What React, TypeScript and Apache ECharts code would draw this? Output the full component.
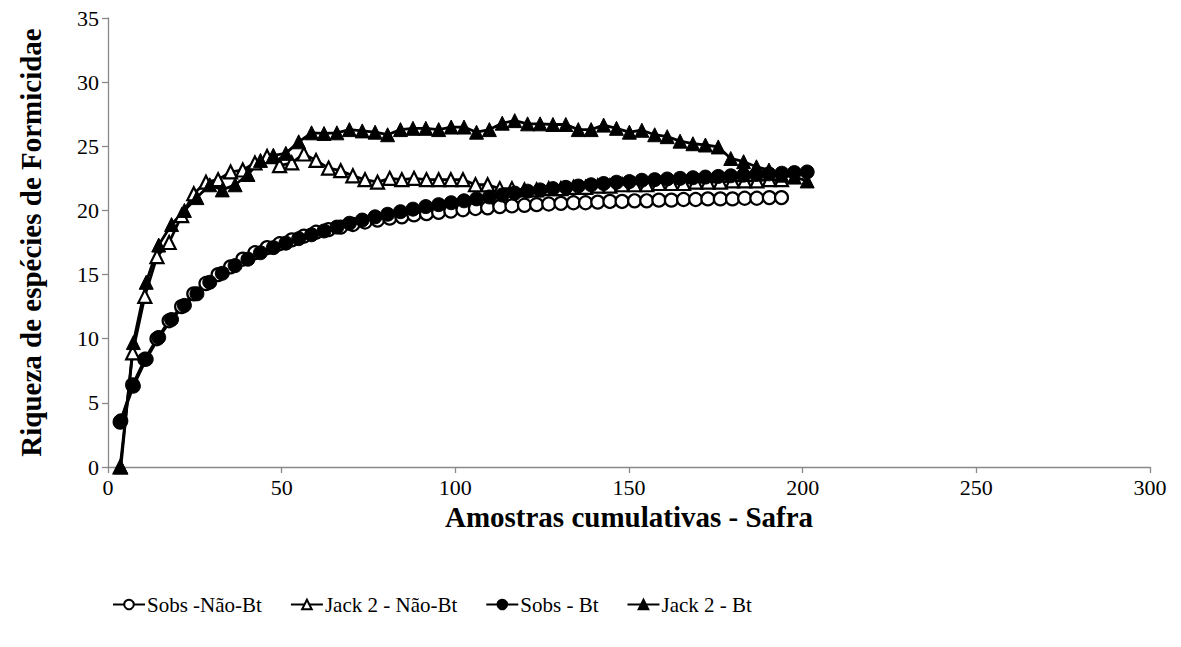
import React, { useEffect, useRef } from "react";
import * as echarts from "echarts";

const xNaoBt = [3.5, 7.1, 10.6, 14.1, 17.6, 21.2, 24.7, 28.2, 31.7, 35.3, 38.8, 42.3, 45.8, 49.4, 52.9, 56.4, 59.9, 63.5, 67.0, 70.5, 74.0, 77.6, 81.1, 84.6, 88.1, 91.7, 95.2, 98.7, 102.2, 105.8, 109.3, 112.8, 116.3, 119.9, 123.4, 126.9, 130.4, 134.0, 137.5, 141.0, 144.5, 148.0, 151.6, 155.1, 158.6, 162.2, 165.7, 169.2, 172.7, 176.3, 179.8, 183.3, 186.8, 190.4, 193.9];
const xBt = [3.7, 7.3, 11.0, 14.6, 18.3, 22.0, 25.6, 29.3, 32.9, 36.6, 40.3, 43.9, 47.6, 51.2, 54.9, 58.6, 62.2, 65.9, 69.5, 73.2, 76.9, 80.5, 84.2, 87.8, 91.5, 95.2, 98.8, 102.5, 106.1, 109.8, 113.5, 117.1, 120.8, 124.4, 128.1, 131.8, 135.4, 139.1, 142.7, 146.4, 150.1, 153.7, 157.4, 161.0, 164.7, 168.4, 172.0, 175.7, 179.3, 183.0, 186.7, 190.3, 194.0, 197.6, 201.3];

const sobsNaoBt = [3.5, 6.4, 8.4, 10.0, 11.4, 12.5, 13.5, 14.3, 15.0, 15.6, 16.2, 16.7, 17.1, 17.4, 17.7, 18.0, 18.3, 18.5, 18.7, 18.9, 19.1, 19.25, 19.4, 19.5, 19.65, 19.75, 19.85, 19.95, 20.05, 20.15, 20.2, 20.3, 20.35, 20.4, 20.45, 20.5, 20.55, 20.6, 20.6, 20.65, 20.7, 20.7, 20.75, 20.75, 20.8, 20.8, 20.85, 20.85, 20.9, 20.9, 20.9, 20.95, 20.95, 21.0, 21.0];
const jack2NaoBt = [0, 8.9, 13.3, 16.4, 17.5, 19.6, 21.3, 22.2, 22.4, 23.0, 23.15, 23.7, 24.2, 23.5, 23.7, 24.4, 23.9, 23.3, 23.1, 22.7, 22.4, 22.2, 22.5, 22.4, 22.5, 22.4, 22.4, 22.4, 22.4, 22.0, 22.0, 21.7, 21.7, 21.6, 21.6, 21.7, 21.7, 21.8, 21.8, 21.9, 21.9, 22.0, 22.0, 22.0, 22.1, 22.1, 22.1, 22.2, 22.2, 22.2, 22.3, 22.3, 22.3, 22.4, 22.4];
const sobsBt = [3.6, 6.3, 8.4, 10.1, 11.5, 12.6, 13.5, 14.4, 15.1, 15.7, 16.2, 16.7, 17.1, 17.45, 17.8, 18.1, 18.4, 18.7, 19.0, 19.25, 19.5, 19.7, 19.9, 20.1, 20.3, 20.45, 20.6, 20.75, 20.9, 21.05, 21.2, 21.35, 21.5, 21.6, 21.7, 21.8, 21.9, 22.0, 22.1, 22.2, 22.25, 22.35, 22.4, 22.45, 22.5, 22.55, 22.6, 22.65, 22.7, 22.75, 22.8, 22.85, 22.9, 22.95, 23.0];
const jack2Bt = [0, 9.7, 14.4, 17.3, 18.9, 20.0, 21.0, 22.0, 21.6, 22.0, 22.8, 23.9, 24.3, 24.45, 25.35, 26.05, 26.0, 26.05, 26.3, 26.2, 26.1, 25.9, 26.3, 26.4, 26.4, 26.3, 26.5, 26.5, 26.1, 26.3, 26.8, 27.0, 26.75, 26.75, 26.7, 26.7, 26.3, 26.3, 26.65, 26.4, 26.1, 26.25, 25.9, 25.75, 25.4, 25.2, 25.1, 24.95, 24.05, 23.8, 23.4, 23.15, 22.75, 22.6, 22.3];

const seriesNames = ["Sobs -Não-Bt", "Jack 2 - Não-Bt", "Sobs - Bt", "Jack 2 - Bt"];
const xTitle = "Amostras cumulativas - Safra";
const yTitle = "Riqueza de espécies de Formicidae";

const FONT = "Liberation Serif";

function pairs(xs: number[], ys: number[]) {
  return ys.map((y, i) => [xs[i], y]);
}

export default function App() {
  const ref = useRef<HTMLDivElement>(null);
  useEffect(() => {
    if (!ref.current) return;
    const chart = echarts.init(ref.current, undefined, { renderer: "svg" });
    const mk = (name: string, data: number[][], symbol: string, filled: boolean, size: number) => ({
      name,
      type: "line",
      data,
      symbol,
      symbolSize: size,
      showSymbol: true,
      lineStyle: { color: "#000", width: 2.8 },
      itemStyle: { color: filled ? "#000" : "#fff", borderColor: "#000", borderWidth: filled ? 1 : 2.2 },
      emphasis: { disabled: true },
    });
    chart.setOption({
      animation: false,
      backgroundColor: "#fff",
      textStyle: { fontFamily: FONT },
      grid: { left: 108, right: 31, top: 18, bottom: 180, containLabel: false },
      legend: {
        data: seriesNames,
        left: 112,
        top: 594,
        padding: 0,
        itemWidth: 32,
        itemHeight: 12,
        itemGap: 28,
        textStyle: { fontFamily: FONT, fontSize: 21, color: "#000", padding: [0, 0, 0, -3] },
      },
      xAxis: {
        type: "value",
        min: 0,
        max: 300,
        interval: 50,
        name: xTitle,
        nameLocation: "middle",
        nameGap: 24,
        nameTextStyle: { fontFamily: FONT, fontSize: 29, fontWeight: "bold", color: "#000" },
        axisLine: { show: true, lineStyle: { color: "#898989", width: 1.3 } },
        axisTick: { show: true, length: 6, lineStyle: { color: "#898989", width: 1.3 } },
        axisLabel: { fontFamily: FONT, fontSize: 22, color: "#000", margin: 9 },
        splitLine: { show: false },
      },
      yAxis: {
        type: "value",
        min: 0,
        max: 35,
        interval: 5,
        name: yTitle,
        nameLocation: "middle",
        nameRotate: 90,
        nameGap: 63,
        nameTextStyle: { fontFamily: FONT, fontSize: 29, fontWeight: "bold", color: "#000" },
        axisLine: { show: true, lineStyle: { color: "#898989", width: 1.3 } },
        axisTick: { show: true, length: 6, lineStyle: { color: "#898989", width: 1.3 } },
        axisLabel: { fontFamily: FONT, fontSize: 22, color: "#000", margin: 9 },
        splitLine: { show: false },
      },
      series: [
        mk(seriesNames[0], pairs(xNaoBt, sobsNaoBt), "circle", false, 13),
        mk(seriesNames[1], pairs(xNaoBt, jack2NaoBt), "triangle", false, 13),
        mk(seriesNames[2], pairs(xBt, sobsBt), "circle", true, 14),
        mk(seriesNames[3], pairs(xBt, jack2Bt), "triangle", true, 14),
      ],
    });
    return () => chart.dispose();
  }, []);
  return <div ref={ref} style={{ width: 1181, height: 647, margin: -8 }} />;
}
